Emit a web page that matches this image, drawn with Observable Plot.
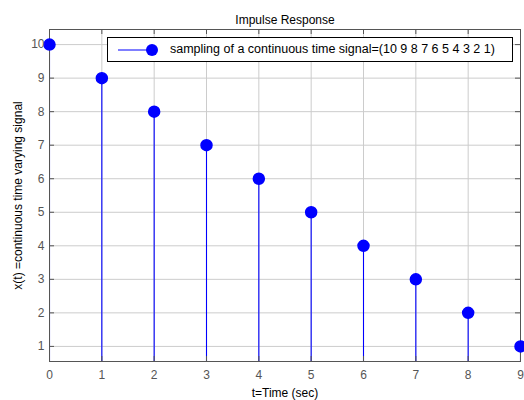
<!DOCTYPE html>
<html>
<head>
<meta charset="utf-8">
<script src="https://cdn.jsdelivr.net/npm/d3@7"></script>
<script src="https://cdn.jsdelivr.net/npm/@observablehq/plot@0.6"></script>
<style>
  body { margin: 0; background: #fff; }
  #wrap { position: relative; width: 524px; height: 400px; font-family: "Liberation Sans", Arial, sans-serif; }
  #legend { position: absolute; left: 107px; top: 37px; width: 404px; height: 23px; border: 1px solid #000; background: #fff; box-sizing: content-box; }
  #legend svg { position: absolute; left: 0; top: 0; }
  #legend span { position: absolute; left: 62px; top: 4px; font-size: 12.5px; color: #000; white-space: nowrap; }
</style>
</head>
<body>
<div id="wrap"></div>
<script>
const t = [0, 1, 2, 3, 4, 5, 6, 7, 8, 9];
const xValues = [10, 9, 8, 7, 6, 5, 4, 3, 2, 1];
const xTicks = [0, 1, 2, 3, 4, 5, 6, 7, 8, 9];
const yTicks = [1, 2, 3, 4, 5, 6, 7, 8, 9, 10];
const titleText = "Impulse Response";
const xLabel = "t=Time (sec)";
const yLabel = "x(t) =continuous time varying signal";
const legendText = "sampling of a continuous time signal=(10 9 8 7 6 5 4 3 2 1)";

const data = t.map((ti, i) => ({ t: ti, x: xValues[i] }));

const W = 524, H = 400, mT = 29, mB = 39, mL = 49, mR = 4;
const fh = H - mT - mB, fw = W - mL - mR;

const chart = Plot.plot({
  width: W, height: H,
  marginTop: mT, marginBottom: mB, marginLeft: mL, marginRight: mR,
  style: { fontFamily: "Liberation Sans, Arial, sans-serif", fontSize: "12px", background: "#fff", color: "#000" },
  x: { domain: [0, 9] },
  y: { domain: [0.55, 10.45] },
  marks: [
    Plot.gridX(xTicks, { stroke: "#cccccc", strokeOpacity: 1 }),
    Plot.gridY(yTicks, { stroke: "#cccccc", strokeOpacity: 1 }),
    Plot.ruleX(data, { x: "t", y1: 0, y2: "x", stroke: "#0000ff", strokeWidth: 1.1, clip: true }),
    // inward tick marks on all four sides
    Plot.ruleX(xTicks, { x: d => d, insetTop: fh - 5, stroke: "#555" }),
    Plot.ruleX(xTicks, { x: d => d, insetBottom: fh - 5, stroke: "#555" }),
    Plot.ruleY(yTicks, { y: d => d, insetRight: fw - 5, stroke: "#555" }),
    Plot.ruleY(yTicks, { y: d => d, insetLeft: fw - 5, stroke: "#555" }),
    Plot.frame({ stroke: "#555" }),
    Plot.dot(data, { x: "t", y: "x", r: 5.5, fill: "#0000ff", stroke: "#0000ff" }),
    Plot.axisX(xTicks, { tickSize: 0, tickPadding: 9, fill: "#555", fontSize: 12,
      label: xLabel, labelAnchor: "center", labelArrow: "none", labelOffset: 35 }),
    Plot.axisY(yTicks, { tickSize: 0, tickPadding: 5, fill: "#555", fontSize: 12,
      label: yLabel, labelAnchor: "center", labelArrow: "none", labelOffset: 36 }),
    Plot.text([titleText], { frameAnchor: "top", dy: -14, fontSize: 12, fill: "#000" })
  ]
});

// make axis labels black
chart.querySelectorAll("g[aria-label='x-axis label'] text, g[aria-label='y-axis label'] text").forEach(n => n.setAttribute("fill", "#000"));

const wrap = document.getElementById("wrap");
wrap.appendChild(chart);

const legend = document.createElement("div");
legend.id = "legend";
legend.innerHTML = `<svg width="60" height="23"><line x1="10" x2="44" y1="12" y2="12" stroke="#0000ff" stroke-width="1.1"/><circle cx="44" cy="12" r="6" fill="#0000ff"/></svg><span>${legendText}</span>`;
wrap.appendChild(legend);
</script>
</body>
</html>
